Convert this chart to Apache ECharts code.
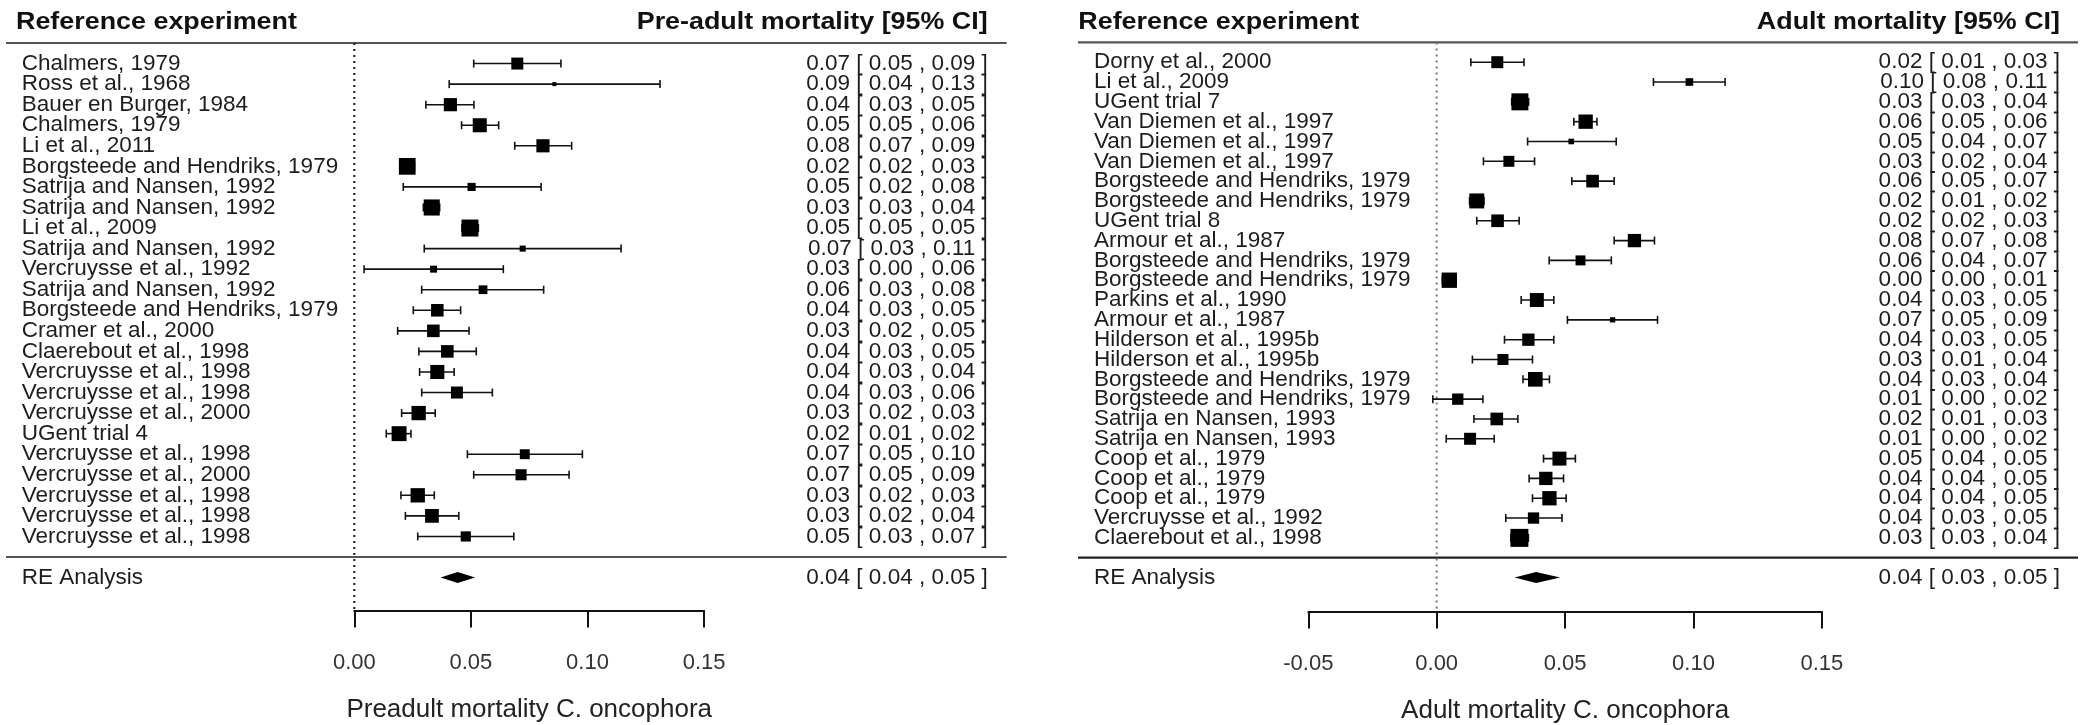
<!DOCTYPE html>
<html>
<head>
<meta charset="utf-8">
<title>Mortality of C. oncophora – forest plots</title>
<script src="https://cdn.jsdelivr.net/npm/echarts@6/dist/echarts.min.js"></script>
<style>
  html, body { margin: 0; padding: 0; background: #fff; }
  #chart { width: 2082px; height: 725px; }
</style>
</head>
<body>
<div id="chart"></div>
<script>
// ---------- Pre-adult mortality ----------
const preStudies = [
  'Chalmers, 1979', 'Ross et al., 1968', 'Bauer en Burger, 1984', 'Chalmers, 1979',
  'Li et al., 2011', 'Borgsteede and Hendriks, 1979', 'Satrija and Nansen, 1992',
  'Satrija and Nansen, 1992', 'Li et al., 2009', 'Satrija and Nansen, 1992',
  'Vercruysse et al., 1992', 'Satrija and Nansen, 1992', 'Borgsteede and Hendriks, 1979',
  'Cramer et al., 2000', 'Claerebout et al., 1998', 'Vercruysse et al., 1998',
  'Vercruysse et al., 1998', 'Vercruysse et al., 2000', 'UGent trial 4',
  'Vercruysse et al., 1998', 'Vercruysse et al., 2000', 'Vercruysse et al., 1998',
  'Vercruysse et al., 1998', 'Vercruysse et al., 1998'
];
const preEst   = [0.0699, 0.0858, 0.0412, 0.0538, 0.0809, 0.0227, 0.0503, 0.0332, 0.0496, 0.0722, 0.0340, 0.0552,
                  0.0356, 0.0339, 0.0399, 0.0356, 0.0440, 0.0276, 0.0192, 0.0731, 0.0715, 0.0272, 0.0333, 0.0478];
const preLower = [0.0512, 0.0407, 0.0307, 0.0460, 0.0688, 0.0196, 0.0210, 0.0296, 0.0462, 0.0300, 0.0042, 0.0289,
                  0.0253, 0.0186, 0.0277, 0.0280, 0.0289, 0.0203, 0.0137, 0.0485, 0.0512, 0.0200, 0.0219, 0.0272];
const preUpper = [0.0886, 0.1311, 0.0513, 0.0619, 0.0932, 0.0258, 0.0801, 0.0366, 0.0532, 0.1144, 0.0639, 0.0812,
                  0.0456, 0.0492, 0.0523, 0.0428, 0.0592, 0.0347, 0.0243, 0.0978, 0.0921, 0.0343, 0.0448, 0.0684];
// random-effects weights (%)
const preWeight = [3.9, 1.2, 4.3, 4.6, 4.3, 5.5, 2.6, 5.3, 5.6, 1.9, 2.2, 2.8,
                   4.1, 4.1, 4.1, 4.6, 3.9, 4.7, 4.9, 3.2, 3.6, 4.7, 4.5, 3.3];
const preRE = [0.0443, 0.0370, 0.0518];          // estimate, lower, upper
const preTicks = [0, 0.05, 0.10, 0.15];

// ---------- Adult mortality ----------
const adultStudies = [
  'Dorny et al., 2000', 'Li et al., 2009', 'UGent trial 7', 'Van Diemen et al., 1997',
  'Van Diemen et al., 1997', 'Van Diemen et al., 1997', 'Borgsteede and Hendriks, 1979',
  'Borgsteede and Hendriks, 1979', 'UGent trial 8', 'Armour et al., 1987',
  'Borgsteede and Hendriks, 1979', 'Borgsteede and Hendriks, 1979', 'Parkins et al., 1990',
  'Armour et al., 1987', 'Hilderson et al., 1995b', 'Hilderson et al., 1995b',
  'Borgsteede and Hendriks, 1979', 'Borgsteede and Hendriks, 1979', 'Satrija en Nansen, 1993',
  'Satrija en Nansen, 1993', 'Coop et al., 1979', 'Coop et al., 1979', 'Coop et al., 1979',
  'Vercruysse et al., 1992', 'Claerebout et al., 1998'
];
const adultEst   = [0.0236, 0.0984, 0.0324, 0.0580, 0.0524, 0.0281, 0.0607, 0.0156, 0.0237, 0.0770, 0.0560, 0.0049, 0.0390,
                    0.0685, 0.0357, 0.0258, 0.0384, 0.0082, 0.0234, 0.0130, 0.0478, 0.0425, 0.0439, 0.0377, 0.0322];
const adultLower = [0.0133, 0.0844, 0.0292, 0.0534, 0.0354, 0.0182, 0.0526, 0.0128, 0.0156, 0.0691, 0.0438, 0.0022, 0.0329,
                    0.0509, 0.0264, 0.0139, 0.0336, -0.0015, 0.0145, 0.0037, 0.0416, 0.0360, 0.0373, 0.0269, 0.0289];
const adultUpper = [0.0340, 0.1123, 0.0358, 0.0624, 0.0699, 0.0381, 0.0691, 0.0184, 0.0321, 0.0848, 0.0680, 0.0076, 0.0456,
                    0.0860, 0.0456, 0.0373, 0.0439, 0.0180, 0.0316, 0.0224, 0.0540, 0.0494, 0.0504, 0.0488, 0.0357];
const adultWeight = [3.2, 1.9, 4.7, 3.9, 1.3, 2.9, 3.4, 4.1, 3.4, 3.6, 2.6, 4.2, 3.8,
                     1.2, 3.3, 2.9, 4.0, 3.0, 3.4, 3.2, 3.8, 3.6, 3.9, 3.0, 5.0];
const adultRE = [0.0387, 0.0303, 0.0481];
const adultTicks = [-0.05, 0, 0.05, 0.10, 0.15];

// ---------- drawing ----------
const FONT = "'Liberation Sans', Arial, Helvetica, sans-serif";
const INK = '#111';
const TEXT = '#1d1d1d';

const fmt = v => { const s = v.toFixed(2); return s === '-0.00' ? '0.00' : s; };
const ciText = (e, l, u) => fmt(e) + ' [ ' + fmt(l) + ' , ' + fmt(u) + ' ]';

const panels = [
  {
    studies: preStudies, est: preEst, lo: preLower, hi: preUpper, w: preWeight, re: preRE, ticks: preTicks,
    header: 'Pre-adult mortality [95% CI]', axisTitle: 'Preadult mortality C. oncophora',
    grid: { left: 354.3, right: 1377.9, top: 12.16, bottom: 114.54 }, yMin: -2.6, yMax: 26.5,
    ruleFrom: -348.3, ruleTo: 302.6, headLeft: -338.3, labelLeft: -332.6, textRight: 283.6,
    sq: [4, 17], refColor: '#1a1a1a', topRule: '#555', midRule: '#555'
  },
  {
    studies: adultStudies, est: adultEst, lo: adultLower, hi: adultUpper, w: adultWeight, re: adultRE, ticks: adultTicks,
    header: 'Adult mortality [95% CI]', axisTitle: 'Adult mortality C. oncophora',
    grid: { left: 1308.3, right: 260.1, top: 12.65, bottom: 113.39 }, yMin: -2.72, yMax: 27.5,
    ruleFrom: -230.3, ruleTo: 256.1, headLeft: -230.0, labelLeft: -214.3, textRight: 238.1,
    sq: [5.3, 18], refColor: '#777', topRule: '#555', midRule: '#222'
  }
];

function textEl(x, y, text, align, extra) {
  return {
    type: 'text', x: x, y: y, silent: true,
    style: Object.assign({
      text: text, fill: TEXT, fontFamily: FONT, fontSize: 22.5,
      align: align, verticalAlign: 'middle'
    }, extra || {})
  };
}

function rowsSeries(p, gi) {
  const k = p.studies.length;
  const wMin = Math.min(...p.w), wMax = Math.max(...p.w);
  return {
    type: 'custom', xAxisIndex: gi, yAxisIndex: gi, clip: false, silent: true,
    data: p.est.map((e, i) => [e, p.lo[i], p.hi[i], p.w[i], k - i]),
    encode: { x: [0, 1, 2], y: 4 },
    renderItem(params, api) {
      const i = params.dataIndex;
      const y = api.value(4);
      const c = api.coord([api.value(0), y]);
      const a = api.coord([api.value(1), y]);
      const b = api.coord([api.value(2), y]);
      const side = p.sq[0] + (p.sq[1] - p.sq[0]) * (api.value(3) - wMin) / (wMax - wMin);
      const cs = params.coordSys;
      const ln = { stroke: INK, lineWidth: 1.6 };
      return {
        type: 'group',
        children: [
          { type: 'line', shape: { x1: a[0], y1: a[1], x2: b[0], y2: b[1] }, style: ln },
          { type: 'line', shape: { x1: a[0], y1: a[1] - 4, x2: a[0], y2: a[1] + 4 }, style: ln },
          { type: 'line', shape: { x1: b[0], y1: b[1] - 4, x2: b[0], y2: b[1] + 4 }, style: ln },
          { type: 'rect', shape: { x: c[0] - side / 2, y: c[1] - side / 2, width: side, height: side }, style: { fill: '#000' } },
          textEl(cs.x + p.labelLeft, c[1], p.studies[i], 'left'),
          textEl(cs.x + cs.width + p.textRight, c[1], ciText(api.value(0), api.value(1), api.value(2)), 'right')
        ]
      };
    }
  };
}

function summarySeries(p, gi) {
  return {
    type: 'custom', xAxisIndex: gi, yAxisIndex: gi, clip: false, silent: true,
    data: [[p.re[0], p.re[1], p.re[2], -1]],
    encode: { x: [0, 1, 2], y: 3 },
    renderItem(params, api) {
      const y = api.value(3);
      const c = api.coord([api.value(0), y]);
      const a = api.coord([api.value(1), y]);
      const b = api.coord([api.value(2), y]);
      const cs = params.coordSys;
      const h = 5.5;
      return {
        type: 'group',
        children: [
          { type: 'polygon', shape: { points: [[a[0], a[1]], [c[0], c[1] - h], [b[0], b[1]], [c[0], c[1] + h]] }, style: { fill: '#000' } },
          textEl(cs.x + p.labelLeft, c[1], 'RE Analysis', 'left'),
          textEl(cs.x + cs.width + p.textRight, c[1], ciText(api.value(0), api.value(1), api.value(2)), 'right')
        ]
      };
    }
  };
}

function frameSeries(p, gi) {
  const k = p.studies.length;
  return {
    type: 'custom', xAxisIndex: gi, yAxisIndex: gi, clip: false, silent: true,
    data: [[0, k + 1]],
    encode: { x: 0, y: 1 },
    renderItem(params, api) {
      const cs = params.coordSys;
      const top = api.coord([0, k + 1]);
      const mid = api.coord([0, 0]);
      const bot = api.coord([0, p.yMin]);
      const head = api.coord([0, k + 2]);
      const x0 = cs.x + p.ruleFrom, x1 = cs.x + cs.width + p.ruleTo;
      const bold = { fontSize: 24, fontWeight: 'bold', fill: '#111' };
      return {
        type: 'group',
        children: [
          { type: 'line', shape: { x1: x0, y1: top[1], x2: x1, y2: top[1] }, style: { stroke: p.topRule, lineWidth: 2.2 } },
          { type: 'line', shape: { x1: x0, y1: mid[1], x2: x1, y2: mid[1] }, style: { stroke: p.midRule, lineWidth: 2.2 } },
          { type: 'line', shape: { x1: top[0], y1: top[1], x2: bot[0], y2: bot[1] },
            style: { stroke: p.refColor, lineWidth: 2, lineDash: [2, 4] } },
          Object.assign(textEl(cs.x + p.headLeft, head[1], 'Reference experiment', 'left', bold), { scaleX: 1.12 }),
          Object.assign(textEl(cs.x + cs.width + p.textRight, head[1], p.header, 'right', bold), { scaleX: 1.12 })
        ]
      };
    }
  };
}

const chart = echarts.init(document.getElementById('chart'), null, { renderer: 'canvas' });

chart.setOption({
  animation: false,
  backgroundColor: '#fff',
  grid: panels.map(p => Object.assign({ outerBoundsMode: 'none', containLabel: false }, p.grid)),
  xAxis: panels.map((p, gi) => ({
    gridIndex: gi, type: 'value', position: 'bottom',
    min: p.ticks[0], max: p.ticks[p.ticks.length - 1], interval: 0.05,
    axisLine: { show: true, onZero: false, lineStyle: { color: INK, width: 2 } },
    axisTick: { show: true, length: 17, lineStyle: { color: INK, width: 2 } },
    axisLabel: { fontSize: 22, color: '#333', margin: 41, fontFamily: FONT, formatter: v => fmt(v) },
    splitLine: { show: false },
    name: p.axisTitle, nameLocation: 'middle', nameGap: 86,
    nameTextStyle: { fontSize: 26, color: '#222', fontFamily: FONT }
  })),
  yAxis: panels.map((p, gi) => ({
    gridIndex: gi, type: 'value', min: p.yMin, max: p.yMax, show: false, splitLine: { show: false }
  })),
  series: panels.flatMap((p, gi) => [frameSeries(p, gi), rowsSeries(p, gi), summarySeries(p, gi)])
});
</script>
</body>
</html>
